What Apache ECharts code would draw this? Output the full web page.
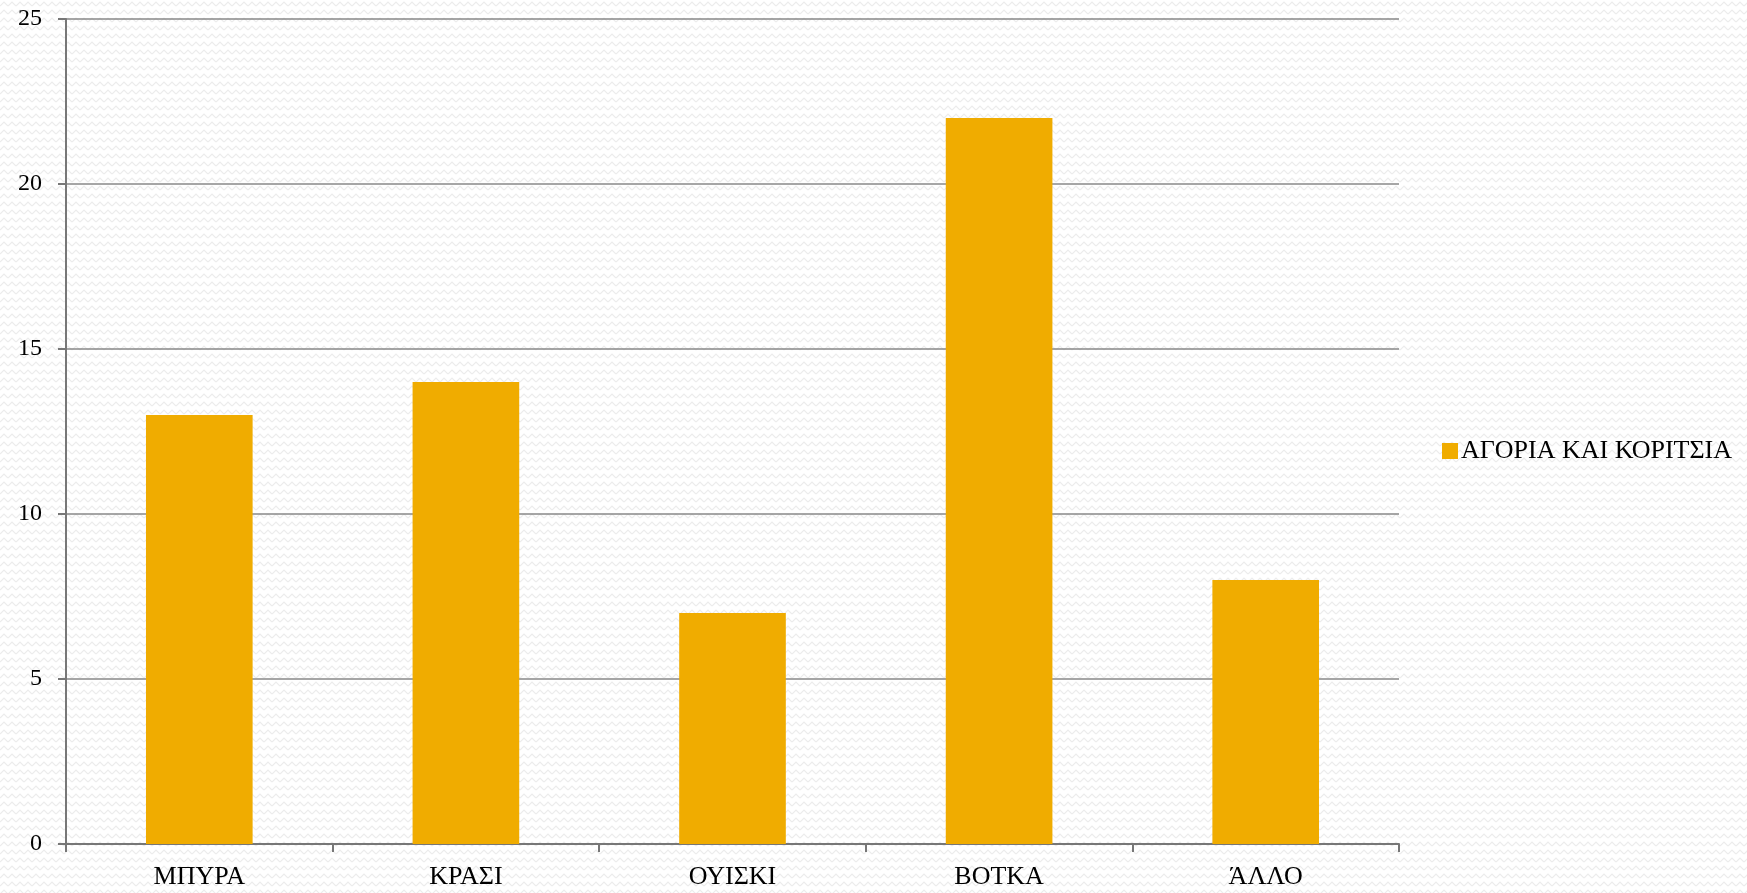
<!DOCTYPE html>
<html>
<head>
<meta charset="utf-8">
<script src="https://cdn.jsdelivr.net/npm/echarts@6/dist/echarts.min.js"></script>
<style>
html,body{margin:0;padding:0;width:1747px;height:893px;overflow:hidden;
background-color:#ffffff;
background-image:url("data:image/svg+xml;utf8,<svg xmlns='http://www.w3.org/2000/svg' width='8' height='8'><polyline points='0,6 4,2 8,6' fill='none' stroke='%23ececec' stroke-width='1.2'/></svg>");
background-size:8px 8px;}
#c{width:1747px;height:893px;}
</style>
</head>
<body>
<div id="c"></div>
<script>
const categories = ['ΜΠΥΡΑ', 'ΚΡΑΣΙ', 'ΟΥΙΣΚΙ', 'ΒΟΤΚΑ', 'ΆΛΛΟ'];
const seriesName = 'ΑΓΟΡΙΑ ΚΑΙ ΚΟΡΙΤΣΙΑ';
const values = [13, 14, 7, 22, 8];

const chart = echarts.init(document.getElementById('c'), null, {renderer: 'canvas'});
chart.setOption({
  backgroundColor: 'transparent',
  animation: false,
  grid: {left: 66, right: 348, top: 19, bottom: 49, containLabel: false},
  legend: {
    data: [seriesName],
    orient: 'vertical',
    left: 1437, top: 433,
    icon: 'rect', itemWidth: 16, itemHeight: 16, itemGap: 6,
    textStyle: {fontFamily: 'Liberation Serif', fontSize: 26, color: '#000', padding: [0, 0, 0, -2]}
  },
  xAxis: {
    type: 'category',
    data: categories,
    axisLine: {lineStyle: {color: '#777', width: 2}},
    axisTick: {show: true, length: 8, lineStyle: {color: '#777', width: 2}},
    axisLabel: {fontFamily: 'Liberation Serif', fontSize: 26, color: '#000', margin: 20}
  },
  yAxis: {
    type: 'value', min: 0, max: 25, interval: 5,
    axisLine: {show: true, lineStyle: {color: '#777', width: 2}},
    axisTick: {show: true, length: 8, lineStyle: {color: '#777', width: 2}},
    splitLine: {lineStyle: {color: '#888', width: 1.5}},
    axisLabel: {fontFamily: 'Liberation Serif', fontSize: 24, color: '#000', margin: 24, padding: [6, 0, 0, 0]}
  },
  series: [{
    name: seriesName,
    type: 'bar',
    data: values,
    barWidth: '40%',
    itemStyle: {color: '#F0AC00'}
  }]
});
</script>
</body>
</html>
